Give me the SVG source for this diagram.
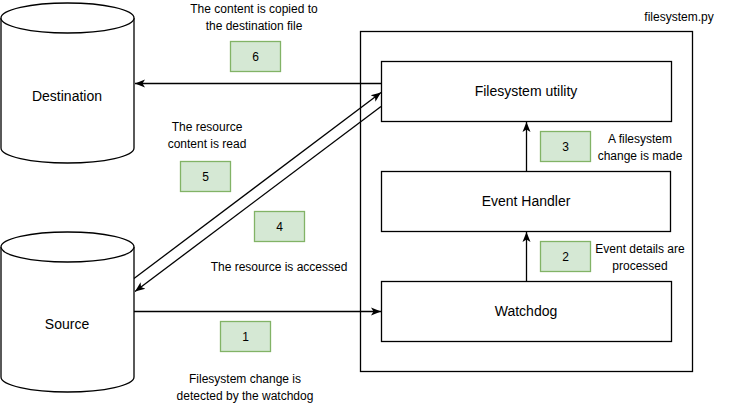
<svg xmlns="http://www.w3.org/2000/svg" width="751" height="403" viewBox="0 0 751 403">
<defs>
<marker id="arr" markerUnits="userSpaceOnUse" markerWidth="10" markerHeight="10" viewBox="0 0 10 10" refX="10" refY="5" orient="auto">
<path d="M0,1 L10,5 L0,9 L2.5,5 Z" fill="#000"/>
</marker>
</defs>
<style>
text{font-family:"Liberation Sans",Arial,sans-serif;fill:#000;text-anchor:middle}
.n{font-size:14px}
.a{font-size:12px}
.box{fill:#fff;stroke:#000;stroke-width:1.3}
.g{fill:#d5e8d4;stroke:#82b366;stroke-width:1.3}
.c{fill:none;stroke:#000;stroke-width:1.3;marker-end:url(#arr)}
</style>
<rect width="751" height="403" fill="#fff"/>
<g id="container">
<rect class="box" x="360.5" y="31.5" width="332" height="340"/>
<text class="a" x="679" y="21">filesystem.py</text>
</g>
<g id="destination">
<path class="box" d="M1,18 A66.5,15 0 0 1 134,18 V148 A66.5,15 0 0 1 1,148 Z"/>
<path class="box" fill="none" d="M1,18 A66.5,15 0 0 0 134,18"/>
<text class="n" x="67" y="101">Destination</text>
</g>
<g id="source">
<path class="box" d="M1,247 A66.5,15 0 0 1 134,247 V377 A66.5,15 0 0 1 1,377 Z"/>
<path class="box" fill="none" d="M1,247 A66.5,15 0 0 0 134,247"/>
<text class="n" x="67" y="329">Source</text>
</g>
<g id="fsutil">
<rect class="box" x="381.5" y="61.5" width="290" height="60"/>
<text class="n" x="526" y="96">Filesystem utility</text>
</g>
<g id="eventhandler">
<rect class="box" x="381.5" y="171.5" width="289" height="60"/>
<text class="n" x="526" y="206">Event Handler</text>
</g>
<g id="watchdog">
<rect class="box" x="381.5" y="281.5" width="290" height="60"/>
<text class="n" x="526" y="316">Watchdog</text>
</g>
<g id="connectors">
<line class="c" x1="381" y1="83.5" x2="135" y2="83.5"/>
<line class="c" x1="134" y1="311.5" x2="381" y2="311.5"/>
<line class="c" x1="526.5" y1="281" x2="526.5" y2="232"/>
<line class="c" x1="526.5" y1="171" x2="526.5" y2="122"/>
<line class="c" x1="134" y1="278.5" x2="381" y2="92.5"/>
<line class="c" x1="381" y1="106.5" x2="135" y2="291.5"/>
</g>
<g id="step6">
<rect class="g" x="230.5" y="41.5" width="50" height="30"/>
<text class="a" x="255.5" y="60.5">6</text>
</g>
<g id="step5">
<rect class="g" x="180.5" y="161.5" width="50" height="30"/>
<text class="a" x="205.5" y="180.5">5</text>
</g>
<g id="step4">
<rect class="g" x="254.5" y="211.5" width="50" height="30"/>
<text class="a" x="279.5" y="230.5">4</text>
</g>
<g id="step1">
<rect class="g" x="220.5" y="321.5" width="50" height="30"/>
<text class="a" x="245.5" y="340.5">1</text>
</g>
<g id="step3">
<rect class="g" x="540.5" y="131.5" width="50" height="30"/>
<text class="a" x="565.5" y="150.5">3</text>
</g>
<g id="step2">
<rect class="g" x="540.5" y="241.5" width="50" height="30"/>
<text class="a" x="565.5" y="260.5">2</text>
</g>
<g id="labels">
<text class="a" x="254" y="12.5">The content is copied to</text>
<text class="a" x="254" y="30">the destination file</text>
<text class="a" x="207" y="131">The resource</text>
<text class="a" x="207" y="148">content is read</text>
<text class="a" x="279" y="271">The resource is accessed</text>
<text class="a" x="245" y="383">Filesystem change is</text>
<text class="a" x="245" y="400">detected by the watchdog</text>
<text class="a" x="640" y="143">A filesystem</text>
<text class="a" x="640" y="160">change is made</text>
<text class="a" x="640" y="253">Event details are</text>
<text class="a" x="640" y="270">processed</text>
</g>
</svg>
